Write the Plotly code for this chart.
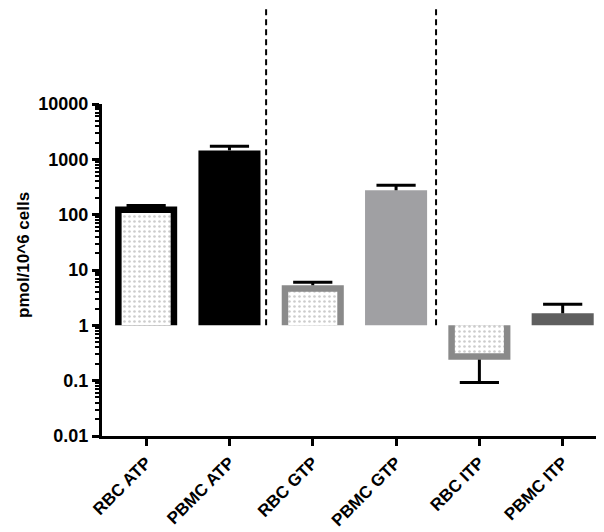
import plotly.graph_objects as go

categories = ["RBC ATP", "PBMC ATP", "RBC GTP", "PBMC GTP", "RBC ITP", "PBMC ITP"]
values = [141, 1450, 5.3, 276, 0.24, 1.65]
err_plus = [6, 280, 0.7, 64, 0, 0.75]
err_minus = [0, 0, 0, 0, 0.147, 0]
y_tickvals = [0.01, 0.1, 1, 10, 100, 1000, 10000]
y_ticktext = ["0.01", "0.1", "1", "10", "100", "1000", "10000"]
baseline = 1
separators = [1.44, 3.48]

rbc_idx = [0, 2, 4]
pbmc_idx = [1, 3, 5]
rbc_line_colors = ["#000000", "#8a8a8a", "#8a8a8a"]
pbmc_fill_colors = ["#000000", "#a0a0a3", "#5f5f5f"]

FONT = "Arial, Liberation Sans, sans-serif"
W, H = 604, 532
ML, MR, MT, MB = 94, 6, 96, 104
Y_RANGE = [-2, 4]
X_RANGE = [-0.53, 5.52]
BAR_W = 0.745
OUTLINE_PX = 6.5

plot_w = W - ML - MR
plot_h = H - MT - MB
px_per_x = plot_w / (X_RANGE[1] - X_RANGE[0])
px_per_decade = plot_h / (Y_RANGE[1] - Y_RANGE[0])
inset_w = BAR_W - 2 * OUTLINE_PX / px_per_x
inset_factor = 10 ** (-OUTLINE_PX / px_per_decade)

fig = go.Figure()

# RBC bars: outer bar in outline colour
fig.add_trace(go.Bar(
    x=rbc_idx, y=[values[i] - baseline for i in rbc_idx], base=baseline, width=BAR_W,
    marker=dict(color=rbc_line_colors, line=dict(width=0)),
    showlegend=False, hoverinfo="skip",
))
# RBC bars: dotted inner fill
inner_vals = []
for i in rbc_idx:
    v = values[i]
    inner_vals.append(v * inset_factor if v >= baseline else v / inset_factor)
fig.add_trace(go.Bar(
    x=rbc_idx, y=[v - baseline for v in inner_vals], base=baseline, width=inset_w,
    marker=dict(color="white", line=dict(width=0),
                pattern=dict(shape=".", fgcolor="#9a9a9a", bgcolor="white", size=5, solidity=0.22)),
    showlegend=False,
))
# PBMC bars: solid
fig.add_trace(go.Bar(
    x=pbmc_idx, y=[values[i] - baseline for i in pbmc_idx], base=baseline, width=BAR_W,
    marker=dict(color=pbmc_fill_colors, line=dict(width=0)),
    showlegend=False,
))

# error bars (one-sided): stems and caps
sx, sy, cx, cy = [], [], [], []
for i, v in enumerate(values):
    if err_plus[i] > 0:
        sx += [i, i, None]; sy += [v, v + err_plus[i], None]
        cx.append(i); cy.append(v + err_plus[i])
    if err_minus[i] > 0:
        sx += [i, i, None]; sy += [v, v - err_minus[i], None]
        cx.append(i); cy.append(v - err_minus[i])

fig.add_trace(go.Scatter(x=sx, y=sy, mode="lines", line=dict(color="black", width=3),
                         showlegend=False, hoverinfo="skip"))
fig.add_trace(go.Scatter(x=cx, y=cy, mode="markers",
                         marker=dict(symbol="line-ew", size=28, line=dict(color="black", width=3)),
                         showlegend=False, hoverinfo="skip"))

# baseline at y = 1 (shape coords on log axis are log10)
fig.add_shape(type="line", xref="paper", yref="y", x0=0, x1=1, y0=0, y1=0,
              line=dict(color="black", width=3), layer="above")

# dashed separators from baseline to top of page
base_paper = (0 - Y_RANGE[0]) / (Y_RANGE[1] - Y_RANGE[0])
for s in separators:
    fig.add_shape(type="line", xref="x", yref="paper", x0=s, x1=s,
                  y0=base_paper, y1=1 + MT / plot_h,
                  line=dict(color="black", width=2, dash="6px,4px"), layer="above")

# y axis title
fig.add_annotation(text="<b>pmol/10^6 cells</b>", xref="paper", yref="paper",
                   x=(15 - ML) / plot_w, y=(H - MB - 247) / plot_h,
                   textangle=-90, showarrow=False, xanchor="center", yanchor="middle",
                   font=dict(family=FONT, size=17, color="black"))

fig.update_layout(
    width=W, height=H, margin=dict(l=ML, r=MR, t=MT, b=MB),
    plot_bgcolor="white", paper_bgcolor="white", barmode="overlay",
    font=dict(family=FONT, color="black"),
)

fig.update_xaxes(
    range=X_RANGE, automargin=False,
    tickmode="array", tickvals=list(range(len(categories))), ticktext=categories,
    tickangle=-45,
    tickfont=dict(family=FONT, size=17, color="black", weight="bold"),
    showline=True, linecolor="black", linewidth=3,
    ticks="outside", ticklen=7, tickwidth=3, tickcolor="black",
    showgrid=False, zeroline=False,
)

fig.update_yaxes(
    type="log", range=Y_RANGE, automargin=False,
    tickmode="array", tickvals=y_tickvals, ticktext=y_ticktext,
    tickfont=dict(family=FONT, size=18, color="black", weight="bold"),
    showline=True, linecolor="black", linewidth=3,
    ticks="outside", ticklen=7, tickwidth=3, tickcolor="black",
    minor=dict(ticks="outside", ticklen=4, tickwidth=1.5, tickcolor="black", dtick="D1"),
    showgrid=False, zeroline=False,
)

fig.write_html("out.html")
